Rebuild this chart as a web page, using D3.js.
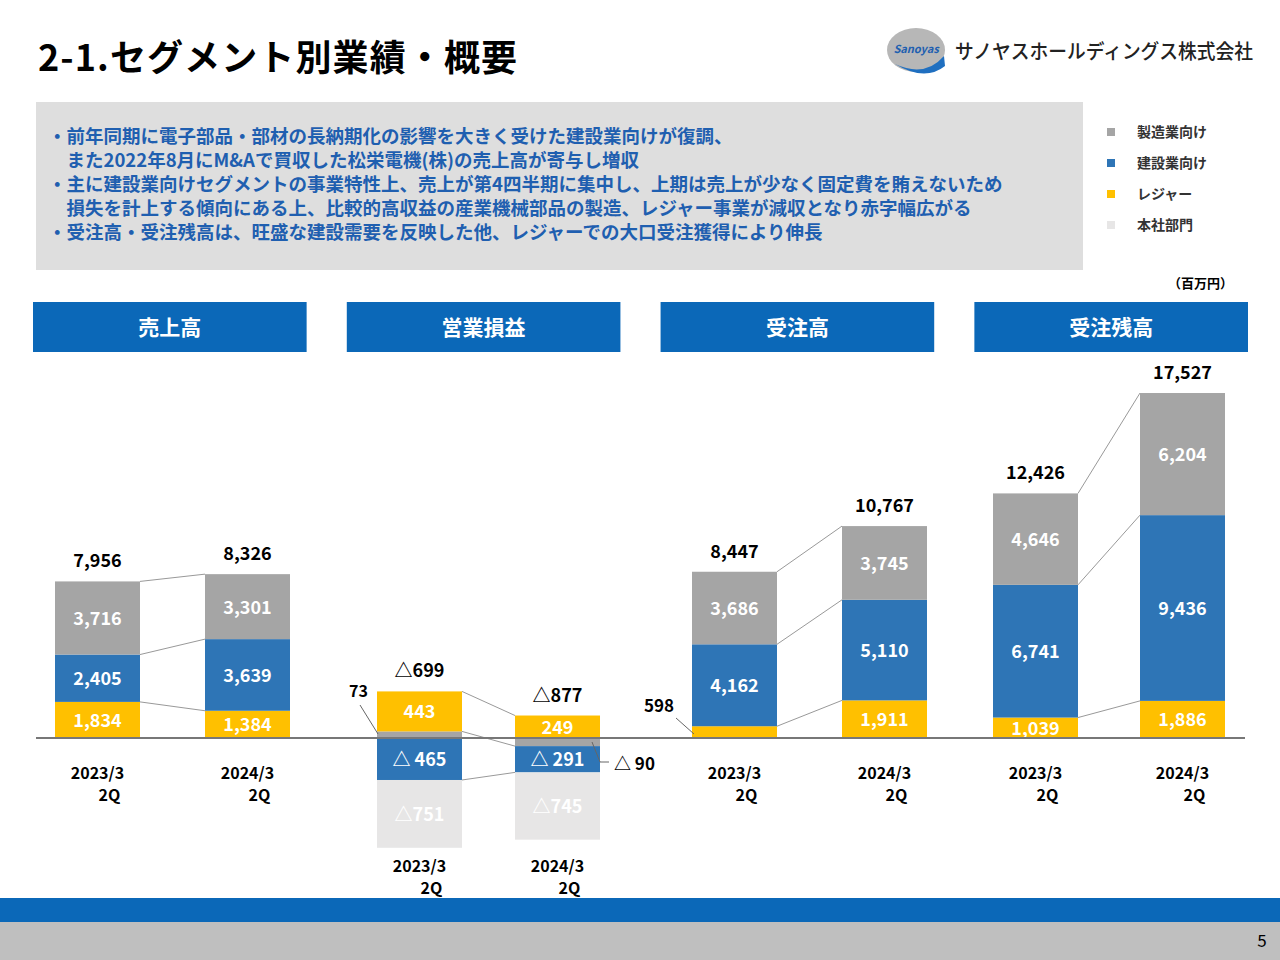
<!DOCTYPE html>
<html><head><meta charset="utf-8">
<script src="https://cdn.jsdelivr.net/npm/d3@7"></script>
<style>body{margin:0;font-family:"Noto Sans CJK JP","Noto Sans",sans-serif}</style>
</head><body><svg id="c" width="1280" height="960"></svg>
<script>
// data (百万円)
var periods = ["2023/3", "2024/3"];
var panels = ["売上高", "営業損益", "受注高", "受注残高"];
var legendNames = ["製造業向け", "建設業向け", "レジャー", "本社部門"];
var colors = ["#a5a5a5", "#2e75b6", "#ffc000", "#e7e6e6"];
var salesLeisure = [1834, 1384], salesConst = [2405, 3639], salesMfg = [3716, 3301], salesTotal = [7956, 8326];
var ordLeisure = [598, 1911], ordConst = [4162, 5110], ordMfg = [3686, 3745], ordTotal = [8447, 10767];
var bklLeisure = [1039, 1886], bklConst = [6741, 9436], bklMfg = [4646, 6204], bklTotal = [12426, 17527];
var opLeisure = [443, 249], opMfg = [73, -90], opConst = [-465, -291], opHQ = [-751, -745], opTotal = [-699, -877];
var bullets = [
  "・前年同期に電子部品・部材の長納期化の影響を大きく受けた建設業向けが復調、",
  "　また2022年8月にM&Aで買収した松栄電機(株)の売上高が寄与し増収",
  "・主に建設業向けセグメントの事業特性上、売上が第4四半期に集中し、上期は売上が少なく固定費を賄えないため",
  "　損失を計上する傾向にある上、比較的高収益の産業機械部品の製造、レジャー事業が減収となり赤字幅広がる",
  "・受注高・受注残高は、旺盛な建設需要を反映した他、レジャーでの大口受注獲得により伸長"
];

var svg = d3.select("#c");
var base = 738;
var fmt = function(v){ return v < 0 ? "△" + d3.format(",")(-v) : d3.format(",")(v); };

svg.append("rect").attr("width",1280).attr("height",960).attr("fill","#fff");
svg.append("text").attr("x",38).attr("y",71).attr("font-size",36).attr("font-weight",700).attr("textLength",479).text("2-1.セグメント別業績・概要");
// logo
svg.append("ellipse").attr("cx",916).attr("cy",50).attr("rx",29).attr("ry",22).attr("fill","#b7b7b7");
svg.append("path").attr("d","M895,64 Q925,78 944,56 L945,66 Q925,82 895,64Z").attr("fill","#1f6fc0");
svg.append("text").attr("x",916).attr("y",53).attr("text-anchor","middle").attr("font-size",11).attr("font-style","italic").attr("font-weight",700).attr("fill","#1f5fb0").text("Sanoyas");
svg.append("text").attr("x",955).attr("y",59).attr("font-size",20).attr("font-weight",500).attr("fill","#222").attr("textLength",298).attr("lengthAdjust","spacingAndGlyphs").text("サノヤスホールディングス株式会社");

// comment box
svg.append("rect").attr("x",36).attr("y",102).attr("width",1047).attr("height",168).attr("fill","#dedede");
svg.selectAll(".bl").data(bullets).enter().append("text").attr("x",48).attr("y",function(d,i){return 143+i*24;})
  .attr("font-size",18.5).attr("font-weight",700).attr("fill","#1f5fb0").text(function(d){return d;});

// legend
legendNames.forEach(function(n,i){
  svg.append("rect").attr("x",1107).attr("y",128+i*31).attr("width",8).attr("height",8).attr("fill",colors[i]);
  svg.append("text").attr("x",1137).attr("y",137+i*31).attr("font-size",14).attr("font-weight",700).attr("fill","#333").text(n);
});
svg.append("text").attr("x",1233).attr("y",288).attr("text-anchor","end").attr("font-size",13).attr("font-weight",700).text("（百万円）");

// panel headers
var headX = d3.scaleBand().domain(panels).range([33,1248]).paddingInner(0.128);
panels.forEach(function(p){
  svg.append("rect").attr("x",headX(p)).attr("y",302).attr("width",headX.bandwidth()).attr("height",50).attr("fill","#0b68b8");
  svg.append("text").attr("x",headX(p)+headX.bandwidth()/2).attr("y",335).attr("text-anchor","middle").attr("font-size",21).attr("font-weight",700).attr("fill","#fff").text(p);
});

var yMain = d3.scaleLinear().domain([0,17527]).range([base, 393]);
var yOp = d3.scaleLinear().domain([0,443]).range([base, 698]);

var barX = {
  "売上高":[55,205], "営業損益":[377,515], "受注高":[692,842], "受注残高":[993,1140]
};
var barW = 85;

function stackSegs(vals){
  var pos=0, neg=0;
  return vals.map(function(v){
    var s;
    if(v[0]>=0){ s={y0:pos,y1:pos+v[0],v:v[0],c:v[1]}; pos+=v[0]; }
    else { s={y0:neg,y1:neg+v[0],v:v[0],c:v[1]}; neg+=v[0]; }
    return s;
  });
}

function drawPanel(name, series, totals, y, opts){
  opts = opts || {};
  var g = svg.append("g");
  var stacks = [0,1].map(function(i){ return stackSegs(series.map(function(s){return [s[0][i], s[1]];})); });
  var xs = barX[name];
  stacks[0].forEach(function(s,k){
    if(s.c==3) return;
    var t = stacks[1][k];
    g.append("line").attr("x1",xs[0]+barW).attr("x2",xs[1]).attr("y1",y(s.y1)).attr("y2",y(t.y1)).attr("stroke","#999").attr("stroke-width",1);
  });
  stacks.forEach(function(st,i){
    st.forEach(function(s){
      var top = y(Math.max(s.y0,s.y1)), bot = y(Math.min(s.y0,s.y1));
      g.append("rect").attr("x",xs[i]).attr("y",top).attr("width",barW).attr("height",bot-top).attr("fill",colors[s.c]);
      if(bot-top>18){
        g.append("text").attr("x",xs[i]+barW/2).attr("y",(top+bot)/2+7).attr("text-anchor","middle")
          .attr("font-size",18).attr("font-weight",700).attr("fill","#fff").text(s.v<0&&s.c==1?"△ "+(-s.v):fmt(s.v));
      }
    });
    var topAll = d3.min(st,function(s){return y(Math.max(s.y0,s.y1));});
    g.append("text").attr("x",xs[i]+barW/2).attr("y",topAll-14).attr("text-anchor","middle").attr("font-size",18).attr("font-weight",700).text(fmt(totals[i]));
    var ly = opts.op ? 872 : 779;
    g.append("text").attr("x",xs[i]+barW/2).attr("y",ly).attr("text-anchor","middle").attr("font-size",16).attr("font-weight",700).text(periods[i]);
    g.append("text").attr("x",xs[i]+barW/2+12).attr("y",ly+22).attr("text-anchor","middle").attr("font-size",16).attr("font-weight",700).text("2Q");
  });
  return stacks;
}

drawPanel("売上高", [[salesLeisure,2],[salesConst,1],[salesMfg,0]], salesTotal, yMain);
drawPanel("受注高", [[ordLeisure,2],[ordConst,1],[ordMfg,0]], ordTotal, yMain);
drawPanel("受注残高", [[bklLeisure,2],[bklConst,1],[bklMfg,0]], bklTotal, yMain);
svg.append("text").attr("x",674).attr("y",712).attr("text-anchor","end").attr("font-size",17).attr("font-weight",700).text(fmt(ordLeisure[0]));
svg.append("line").attr("x1",676).attr("y1",718).attr("x2",694).attr("y2",734).attr("stroke","#666");

drawPanel("営業損益", [[opMfg,0],[opLeisure,2],[opConst,1],[opHQ,3]], opTotal, yOp, {op:true});
svg.append("text").attr("x",368).attr("y",697).attr("text-anchor","end").attr("font-size",16).attr("font-weight",700).text(fmt(opMfg[0]));
svg.append("line").attr("x1",360).attr("y1",705).attr("x2",378).attr("y2",734).attr("stroke","#666");
svg.append("path").attr("d","M592,742 L600,762 L609,762").attr("fill","none").attr("stroke","#666");
svg.append("text").attr("x",614).attr("y",770).attr("font-size",17).attr("font-weight",700).text("△ "+(-opMfg[1]));

svg.append("line").attr("x1",36).attr("x2",1245).attr("y1",base).attr("y2",base).attr("stroke","#777").attr("stroke-width",2);

svg.append("rect").attr("x",0).attr("y",898).attr("width",1280).attr("height",24).attr("fill","#0b68b8");
svg.append("rect").attr("x",0).attr("y",922).attr("width",1280).attr("height",38).attr("fill","#bfbfbf");
svg.append("text").attr("x",1262).attr("y",947).attr("text-anchor","middle").attr("font-size",17).text("5");
</script></body></html>
